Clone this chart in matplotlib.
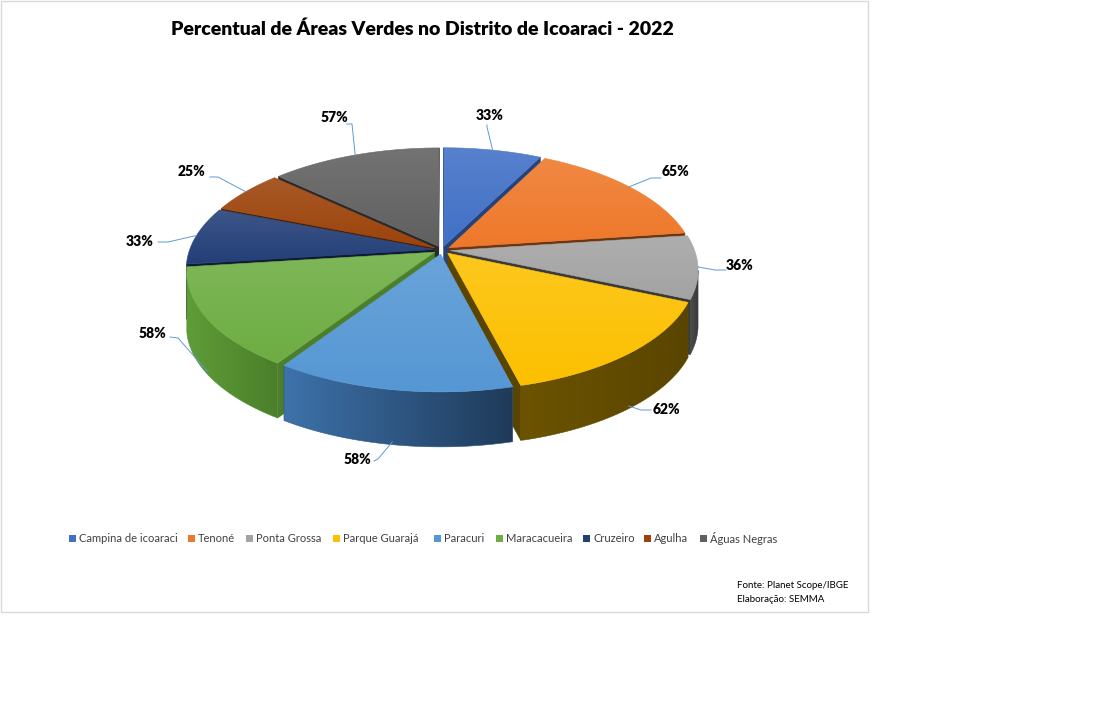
import numpy as np
import matplotlib
matplotlib.use("Agg")
import matplotlib.pyplot as plt
from matplotlib.patches import Polygon, Rectangle
from matplotlib.colors import to_rgb

# -------------------------
# Data
# -------------------------

bairros = [
    "Campina de icoaraci",
    "Tenoné",
    "Ponta Grossa",
    "Parque Guarajá",
    "Paracuri",
    "Maracacueira",
    "Cruzeiro",
    "Agulha",
    "Águas Negras",
]

percentuais = [33, 65, 36, 62, 58, 58, 33, 25, 57]

titulo = "Percentual de Áreas Verdes no Distrito de Icoaraci - 2022"
fonte = ["Fonte: Planet Scope/IBGE", "Elaboração: SEMMA"]

# -------------------------
# Styles
# -------------------------

cores_topo = ["#4170C6", "#EE782A", "#A3A3A3", "#FCC000", "#5597D4",
              "#6DAD42", "#233F78", "#9C430A", "#606060"]

cores_lado = [("#2d4f8c", "#25437a"), ("#8a4414", "#6e3610"),
              ("#4d4d4d", "#3a3a3a"), ("#6b5300", "#5a4500"),
              ("#3d72aa", "#1f3b5a"), ("#5f9c37", "#4b7f2b"),
              ("#16284a", "#0f1c36"), ("#5e2a08", "#4a2006"),
              ("#333333", "#2a2a2a")]

# label text centres and leader-line start/elbow (pixels)
pos_rotulo = [(490, 116), (675, 172), (740, 266), (666, 409), (357, 460),
              (152, 333), (140, 241), (192, 172), (334, 117)]
linha_ini = [(487, 125), (661, 178), (726, 270), (651, 410), (374, 461),
             (170, 337), (158, 242), (210, 177), (347, 124)]
linha_cot = [(487, 127), (651, 178), (715, 270), (641, 410), (378, 459),
             (178, 338), (168, 242), (218, 177), (352, 124)]

legenda_x = [72, 191, 249, 336, 437, 499, 586, 647, 703]

# pie geometry (pixels)
CX, CY = 442, 250
RX = 244
A, B = 118, 18.5
K = 0.165
DEPTH = 55
EXPLODE = 0.035

W, H = 1113, 709


def proj(u, v, drop=0.0):
    x = CX + RX * u * (1 - K * v)
    y = CY - A * v + B * v * v + drop
    return np.array([x, y])


def clarear(c, f):
    c = np.array(to_rgb(c))
    return tuple(c + (1 - c) * f)


def area(q):
    x, y = q[:, 0], q[:, 1]
    return np.sum(x * np.roll(y, -1) - np.roll(x, -1) * y) / 2


def gradiente(ax, xy, c1, c2, direcao, z):
    poly = Polygon(xy, closed=True, fc="none", ec="none", zorder=z)
    ax.add_patch(poly)
    x0, y0 = xy.min(axis=0)
    x1, y1 = xy.max(axis=0)
    x1 = max(x1, x0 + 1)
    y1 = max(y1, y0 + 1)
    t = np.linspace(0, 1, 120)[:, None]
    cols = np.array(to_rgb(c1)) * (1 - t) + np.array(to_rgb(c2)) * t
    img = cols[None, :, :] if direcao == "h" else cols[:, None, :]
    im = ax.imshow(img, extent=(x0, x1, y1, y0), origin="upper",
                   aspect="auto", interpolation="bilinear", zorder=z)
    im.set_clip_path(poly)
    mid = tuple((np.array(to_rgb(c1)) + np.array(to_rgb(c2))) / 2)
    ax.add_patch(Polygon(xy, closed=True, fc="none", ec=mid, lw=0.4,
                         zorder=z + 0.001))


# -------------------------
# Figure
# -------------------------

plt.rcParams["font.family"] = ["Lato", "DejaVu Sans"]

fig = plt.figure(figsize=(W / 100, H / 100), dpi=100)
ax = fig.add_axes([0, 0, 1, 1])
ax.set_axis_off()

ax.add_patch(Rectangle((0.5, 0.5), 867.5, 611.5, fc="white",
                       ec="#d9d9d9", lw=1, zorder=0))

total = sum(percentuais)
limites = np.radians(np.concatenate([[0], np.cumsum(percentuais) / total * 360]))

faces = []
topos = []

for i in range(len(percentuais)):
    t1, t2 = limites[i], limites[i + 1]
    m = (t1 + t2) / 2
    ou, ov = EXPLODE * np.sin(m), EXPLODE * np.cos(m)
    n = max(10, int(np.degrees(t2 - t1)))
    phis = np.linspace(t1, t2, n)
    arco_uv = [(np.sin(p) + ou, np.cos(p) + ov) for p in phis]
    apice_uv = (ou, ov)

    topo = np.array([proj(*apice_uv)] + [proj(*p) for p in arco_uv])
    topos.append(topo)

    # radial faces
    for a_uv, b_uv in [(apice_uv, arco_uv[0]), (arco_uv[-1], apice_uv)]:
        q = np.array([proj(*a_uv), proj(*b_uv),
                      proj(*b_uv, DEPTH), proj(*a_uv, DEPTH)])
        if area(q) < 0:
            faces.append(((a_uv[1] + b_uv[1]) / 2, "r", q, i))

    # outer wall, visible part
    vis = []
    for j in range(n - 1):
        q = np.array([proj(*arco_uv[j]), proj(*arco_uv[j + 1]),
                      proj(*arco_uv[j + 1], DEPTH), proj(*arco_uv[j], DEPTH)])
        if area(q) < 0:
            vis.append(j)
    if vis:
        idx = list(range(vis[0], vis[-1] + 2))
        cima = [proj(*arco_uv[k]) for k in idx]
        baixo = [proj(*arco_uv[k], DEPTH) for k in idx[::-1]]
        q = np.array(cima + baixo)
        vm = np.mean([arco_uv[k][1] for k in idx])
        faces.append((vm, "o", q, i))

# walls back to front
z = 2
for vm, tipo, q, i in sorted(faces, key=lambda f: -f[0]):
    c_esq, c_dir = cores_lado[i]
    if tipo == "r":
        ax.add_patch(Polygon(q, closed=True, fc=c_dir, ec=c_dir, lw=0.4,
                             zorder=z))
    else:
        gradiente(ax, q, c_esq, c_dir, "h", z)
    z += 0.01

# top surfaces
for i, topo in enumerate(topos):
    gradiente(ax, topo, clarear(cores_topo[i], 0.12), cores_topo[i], "v", 5)

# labels and leader lines
for i, p in enumerate(percentuais):
    t1, t2 = limites[i], limites[i + 1]
    m = (t1 + t2) / 2
    ou, ov = EXPLODE * np.sin(m), EXPLODE * np.cos(m)
    u, v = np.sin(m) + ou, np.cos(m) + ov
    if np.cos(m) < -0.4:
        fim = proj(u, v, DEPTH * 0.95)
    else:
        fim = proj(u, v)
    xs = [linha_ini[i][0], linha_cot[i][0], fim[0]]
    ys = [linha_ini[i][1], linha_cot[i][1], fim[1]]
    ax.plot(xs, ys, color="#5B9BD5", lw=0.7, zorder=6)
    ax.text(*pos_rotulo[i], f"{p}%", ha="center", va="center",
            fontsize=10, fontweight="heavy", color="black", zorder=7)

ax.text(422, 29, titulo, ha="center", va="center", fontsize=14,
        fontweight="heavy", color="black")

# legend
for i, nome in enumerate(bairros):
    x = legenda_x[i]
    ax.add_patch(Rectangle((x - 3.5, 535), 7, 7, fc=cores_topo[i],
                           ec="none", zorder=3))
    ax.text(x + 7, 538.5, nome, ha="left", va="center", fontsize=8,
            color="#404040")

ax.text(737, 585, fonte[0], ha="left", va="center", fontsize=7, color="black")
ax.text(737, 599, fonte[1], ha="left", va="center", fontsize=7, color="black")

ax.set_xlim(0, W)
ax.set_ylim(H, 0)

fig.savefig("out.png", dpi=100)
